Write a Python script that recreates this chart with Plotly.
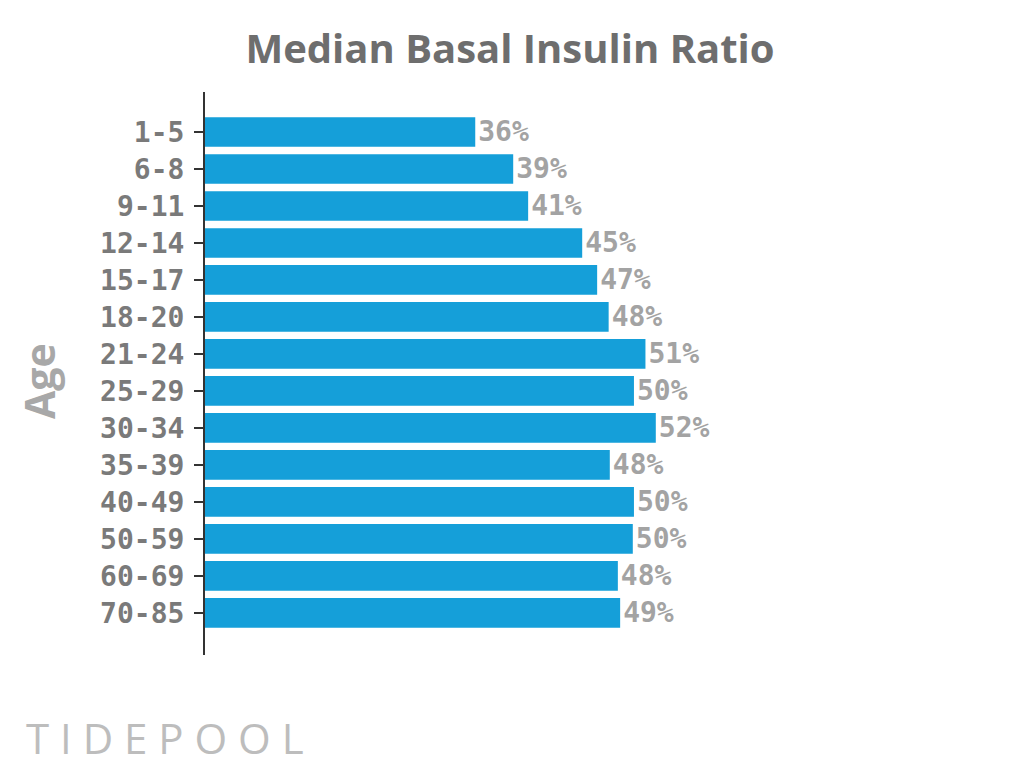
import plotly.graph_objects as go

age_groups = ["1-5", "6-8", "9-11", "12-14", "15-17", "18-20", "21-24", "25-29",
              "30-34", "35-39", "40-49", "50-59", "60-69", "70-85"]
basal_ratio_pct = [36.0, 39.3, 40.6, 45.3, 46.6, 47.6, 50.8, 49.8,
                   51.7, 47.7, 49.8, 49.7, 48.4, 48.6]

title_text = "Median Basal Insulin Ratio"
axis_title = "Age"
logo_text = "T I D E P O O L"

BLUE = "#159fd9"

# page body has an 8px default margin; compensate so the drawing lands where intended
OFF = 8
plot_left, plot_top, plot_right, plot_bottom = 205, 92, 900, 655
plot_w = plot_right - plot_left
plot_h = plot_bottom - plot_top

fig = go.Figure()
fig.add_trace(go.Bar(
    x=basal_ratio_pct,
    y=age_groups,
    orientation="h",
    marker=dict(color=BLUE, line=dict(width=0)),
    texttemplate="%{x:.0f}%",
    textposition="outside",
    constraintext="none",
    outsidetextfont=dict(family="DejaVu Sans Mono", size=28, color="#a3a3a3", weight="bold"),
    cliponaxis=False,
    hoverinfo="skip",
))

x0 = 12.5
px_per_unit = 11.5

fig.update_layout(
    width=1024, height=782,
    margin=dict(l=plot_left - OFF, r=1024 - plot_right + OFF,
                t=plot_top - OFF, b=782 - plot_bottom + OFF, autoexpand=False),
    paper_bgcolor="white", plot_bgcolor="white",
    bargap=0.2,
    showlegend=False,
    title=dict(
        text=title_text,
        font=dict(family="Open Sans", size=40, color="#6e6e6e", weight="bold"),
        x=(510 - OFF) / 1024, xref="container", xanchor="center",
        y=1 - (49 - OFF) / 782, yref="container", yanchor="middle",
    ),
    xaxis=dict(
        range=[x0, x0 + plot_w / px_per_unit],
        showticklabels=False, showgrid=False, zeroline=False, showline=False, ticks="",
    ),
    yaxis=dict(
        type="category",
        range=[14.14, -1.08],
        showline=True, linecolor="#333333", linewidth=2,
        ticks="outside", ticklen=9, tickwidth=2, tickcolor="#333333",
        ticklabelstandoff=4,
        tickfont=dict(family="DejaVu Sans Mono", size=28, color="#7a7a7a", weight="bold"),
        showgrid=False, zeroline=False,
    ),
    annotations=[
        dict(text=axis_title, textangle=-90, xref="paper", yref="paper",
             x=(39 - plot_left) / plot_w, y=(plot_bottom - 381) / plot_h,
             xanchor="center", yanchor="middle", showarrow=False,
             font=dict(family="Open Sans", size=41, color="#a8a8a8", weight="bold")),
        dict(text=logo_text, xref="paper", yref="paper",
             x=(24 - plot_left) / plot_w, y=(plot_bottom - 737) / plot_h,
             xanchor="left", yanchor="middle", showarrow=False,
             font=dict(family="Open Sans", size=42, color="#bdbdbd")),
    ],
)

fig.write_html("out.html")
